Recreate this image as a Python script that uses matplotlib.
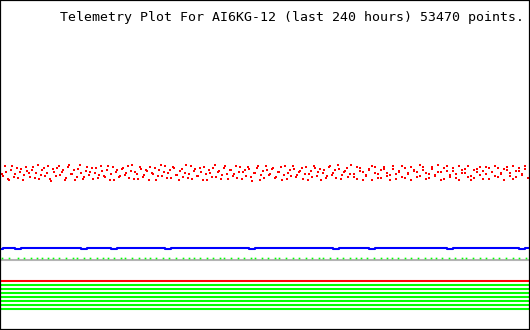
import numpy as np
import matplotlib
matplotlib.use("Agg")
import matplotlib.pyplot as plt

title = "Telemetry Plot For AI6KG-12 (last 240 hours) 53470 points."
hours = 240

# red scatter channel, pixel rows (two interleaved passes)
red_a = [168, 176, 172, 180, 166, 174, 178, 169, 175, 171,
         177, 167, 173, 179, 170, 176, 166, 181, 172, 168,
         175, 170, 178, 165, 174, 180, 169, 173, 177, 167,
         172, 179, 168, 175, 171, 177, 166, 174, 180, 170,
         176, 168, 173, 178, 165, 172, 179, 169, 175, 171,
         167, 174, 180, 170, 176, 166, 173, 178, 168, 175,
         171, 177, 165, 174, 179, 169, 176, 172, 167, 180,
         173, 168, 177, 171, 175, 166, 179, 170, 174, 178,
         167, 172, 176, 169, 181, 173, 166, 175, 178, 170,
         174, 168, 177, 172, 180, 166, 173, 176, 169, 175,
         171, 179, 167, 174, 177, 168, 172, 180, 170, 176,
         166, 173, 178, 169, 175, 171, 177, 165, 174, 179,
         168, 172, 176, 170, 180, 167, 174, 178, 169, 173,
         175, 166, 179, 171, 177, 168, 174, 180, 170, 172,
         176, 167, 173, 178, 169, 175, 165, 172, 179, 171,
         177, 168, 174, 180, 170, 173, 166, 176, 178, 169,
         175, 171, 167, 179, 172, 176, 168, 174, 180, 170,
         173, 166, 177, 171, 175, 169, 178]
red_b = [174, 166, 179, 170, 177, 168, 172, 180, 167, 173,
         170, 178, 165, 175, 168, 173, 179, 169, 176, 166,
         172, 180, 167, 174, 170, 177, 165, 179, 171, 175,
         168, 173, 178, 166, 176, 170, 180, 167, 172, 177,
         169, 175, 166, 171, 179, 174, 167, 177, 170, 180,
         173, 168, 176, 165, 172, 178, 170, 167, 175, 180,
         169, 173, 178, 166, 171, 176, 168, 180, 174, 170,
         177, 165, 172, 179, 168, 174, 170, 176, 166, 172,
         179, 170, 167, 177, 173, 168, 180, 171, 166, 175,
         169, 178, 172, 167, 175, 179, 170, 166, 177, 172,
         168, 174, 180, 171, 166, 176, 169, 173, 178, 167,
         175, 170, 165, 179, 172, 168, 174, 177, 167, 171,
         180, 175, 169, 166, 173, 178, 170, 167, 176, 180,
         169, 174, 172, 166, 178, 173, 167, 171, 177, 165,
         170, 179, 174, 167, 176, 172, 180, 168, 166, 175,
         171, 178, 166, 173, 169, 177, 180, 170, 172, 167,
         179, 174, 168, 172, 166, 177, 173, 169, 167, 176,
         179, 171, 168, 174, 166, 178]
red_a = [330 - v for v in red_a]
red_b = [330 - v for v in red_b]

# blue channel
blue_vals = [81.3, 82, 82, 81.3, 82, 82, 82, 82, 82, 82,
             82, 82, 82, 82, 81.3, 82, 82, 82, 82, 81.3,
             82, 82, 82, 82, 82, 82, 82, 82, 81.3, 82,
             82, 82, 82, 82, 82, 82, 82, 82, 82, 82,
             82, 82, 81.3, 82, 82, 82, 82, 82, 82, 82,
             82, 82, 82, 82, 82, 82, 81.3, 82, 82, 82,
             82, 82, 81.3, 82, 82, 82, 82, 82, 82, 82,
             82, 82, 82, 82, 82, 81.3, 82, 82, 82, 82,
             82, 82, 82, 82, 82, 82, 82, 81.3, 82]

# green dots sitting on the grey line (hours)
green_hours = [1, 4, 8, 11, 14, 17, 19, 22, 24, 27, 30, 33, 35, 38, 41, 44,
               47, 49, 52, 55, 57, 60, 63, 66, 68, 71, 74, 77, 80, 83, 86,
               88, 91, 94, 97, 100, 102, 105, 108, 111, 114, 116, 119, 122,
               125, 127, 130, 133, 136, 139, 142, 145, 147, 150, 153, 156,
               159, 162, 164, 167, 170, 173, 176, 178, 181, 184, 187, 190,
               193, 196, 198, 201, 204, 207, 210, 212, 215, 218, 221, 224,
               227, 230, 233, 236, 239]
green_val = 72
grey_val = 70

red_line = 49
green_lines = [44.7, 40.7, 36.7, 32.7, 28.7, 24.7, 20.7]

fig = plt.figure(figsize=(5.3, 3.3), dpi=100)
ax = fig.add_axes([0, 0, 1, 1])
ax.set_xlim(0, hours * 530 / 528)
ax.set_ylim(0, 330)
ax.set_xticks([])
ax.set_yticks([])
for s in ax.spines.values():
    s.set_linewidth(1.6)
    s.set_color("black")

xa = np.linspace(0, hours, len(red_a))
ax.plot(xa, red_a, "s", color="#ff0000", markersize=1.6, markeredgewidth=0)
xb2 = np.linspace(hours / 350, hours, len(red_b))
ax.plot(xb2, red_b, "s", color="#ff0000", markersize=1.6, markeredgewidth=0)

xb = np.linspace(0, hours, len(blue_vals))
ax.plot(xb, blue_vals, color="#0000ff", lw=1.5, drawstyle="steps-mid")

ax.plot([0, hours], [grey_val, grey_val], color="#b4b4b4", lw=1.5)
ax.plot(green_hours, [green_val] * len(green_hours), "s", color="#00ff00",
        markersize=1.2, markeredgewidth=0)

ax.plot([0, hours], [red_line, red_line], color="#ff0000", lw=1.5)
for g in green_lines:
    ax.plot([0, hours], [g, g], color="#00ff00", lw=1.5)

fig.text(60 / 530, 1 - 17 / 330, title, family="DejaVu Sans Mono",
         fontsize=9.5, va="center", ha="left")

fig.savefig("out.png", dpi=100)
